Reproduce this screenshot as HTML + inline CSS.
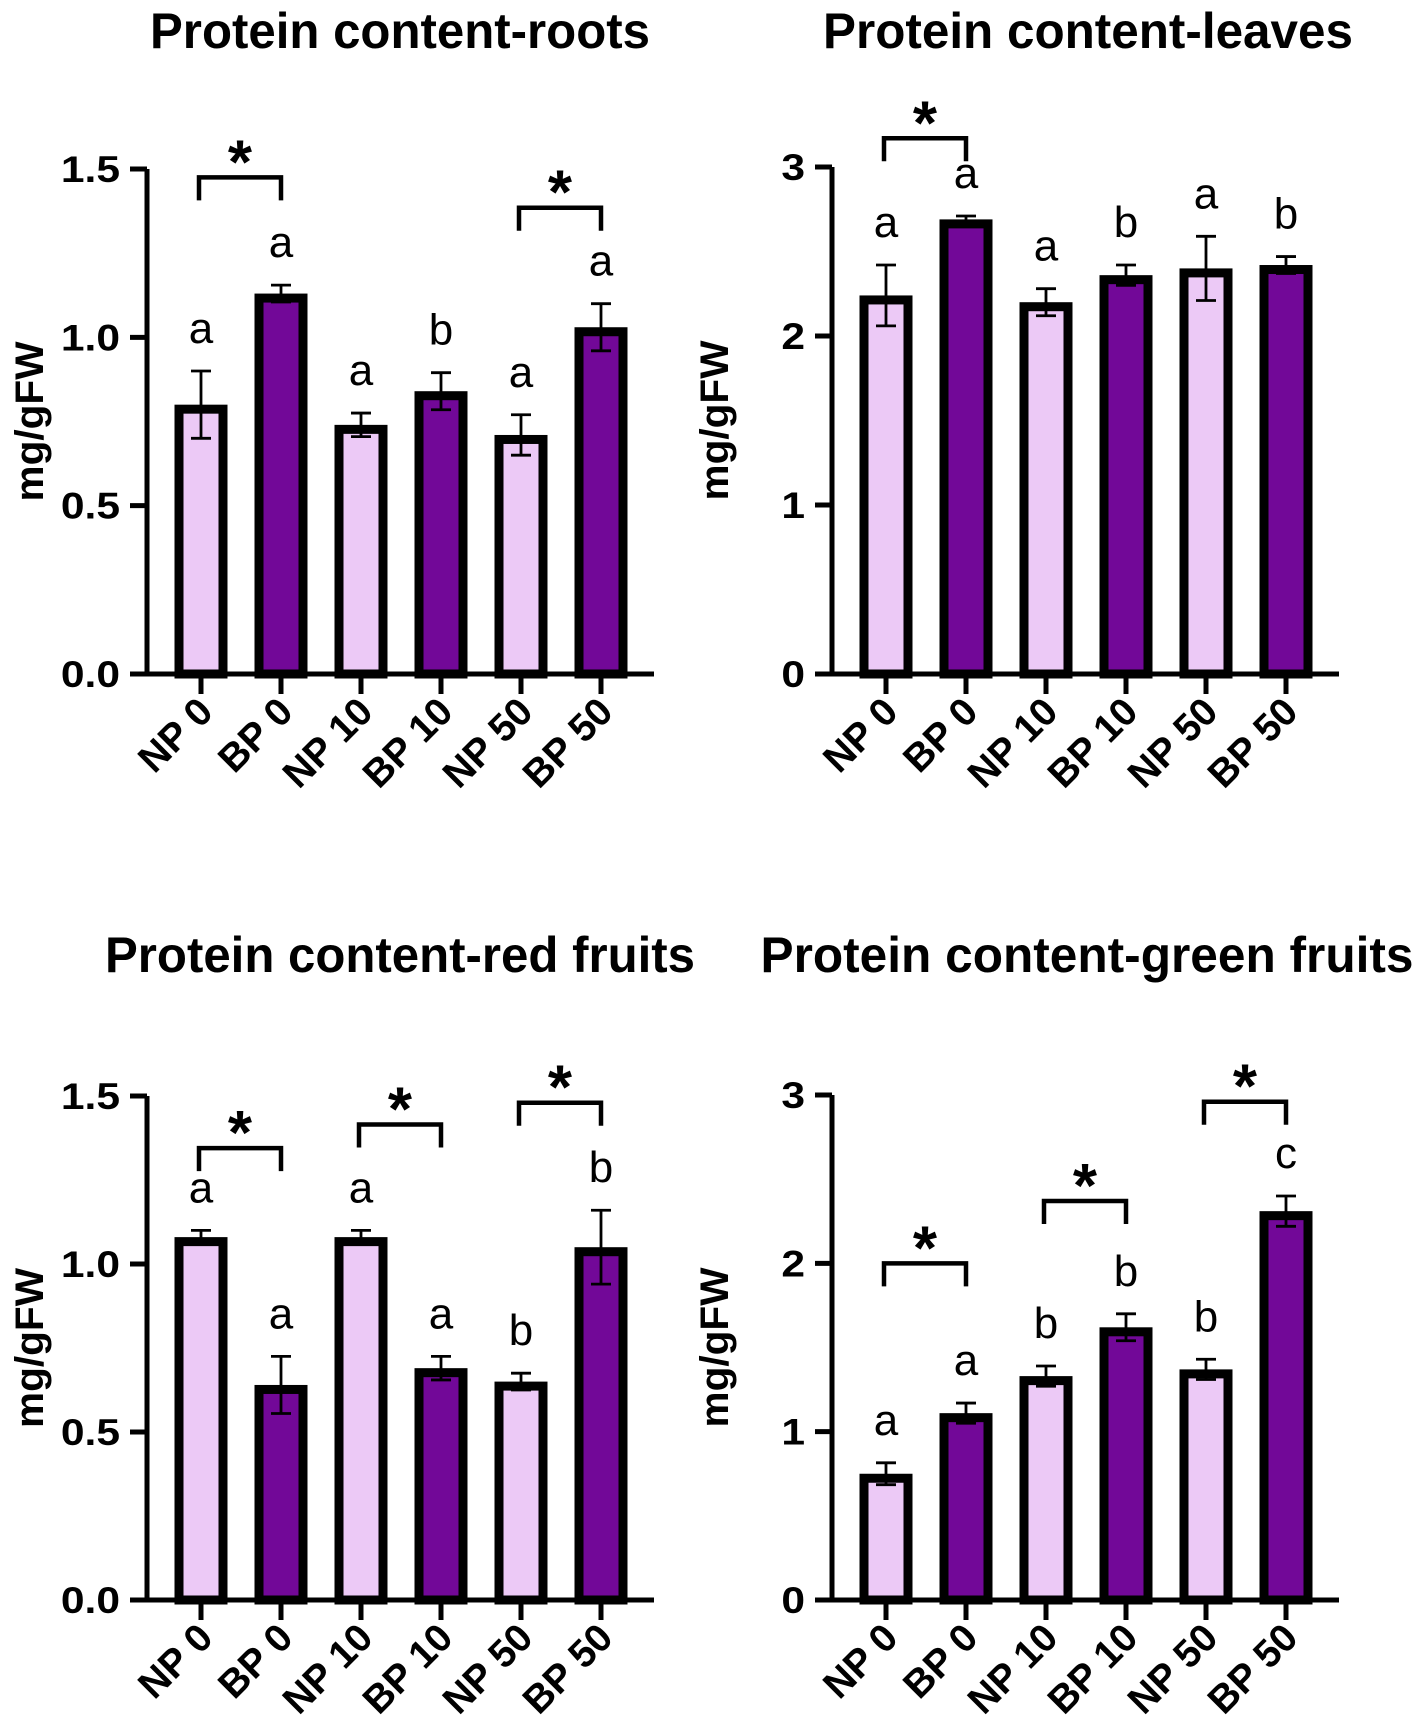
<!DOCTYPE html>
<html><head><meta charset="utf-8"><style>
html,body{margin:0;padding:0;background:#fff;}
svg{display:block;font-family:"Liberation Sans",Arial,sans-serif;}
</style></head><body>
<svg id="fig" width="1418" height="1734" viewBox="0 0 1418 1734" xmlns="http://www.w3.org/2000/svg"></svg>
<script>
const categories = ["NP 0","BP 0","NP 10","BP 10","NP 50","BP 50"];
const rootsValues = [0.80,1.13,0.74,0.84,0.71,1.03];
const rootsErrors = [0.10,0.025,0.035,0.055,0.06,0.07];
const rootsLetters = ["a","a","a","b","a","a"];
const leavesValues = [2.24,2.69,2.20,2.36,2.40,2.42];
const leavesErrors = [0.18,0.02,0.08,0.06,0.19,0.05];
const leavesLetters = ["a","a","a","b","a","b"];
const redValues = [1.08,0.64,1.08,0.69,0.65,1.05];
const redErrors = [0.02,0.085,0.02,0.035,0.025,0.11];
const redLetters = ["a","a","a","a","b","b"];
const greenValues = [0.75,1.11,1.33,1.62,1.37,2.31];
const greenErrors = [0.065,0.06,0.06,0.08,0.06,0.09];
const greenLetters = ["a","a","b","b","b","c"];
const rootsTicks = ["0.0","0.5","1.0","1.5"];
const rootsTickVals = [0,0.5,1.0,1.5];
const leavesTicks = ["0","1","2","3"];
const leavesTickVals = [0,1,2,3];
const rootsBrackets = [[0,1,1.475],[4,5,1.385]];
const leavesBrackets = [[0,1,3.17]];
const redBrackets = [[0,1,1.345],[2,3,1.415],[4,5,1.48]];
const greenBrackets = [[0,1,2.0],[2,3,2.37],[4,5,2.96]];

const svg = document.getElementById('fig');
const NS = 'http://www.w3.org/2000/svg';
function mk(tag, attrs, parent){
  const e = document.createElementNS(NS, tag);
  for (const k in attrs) e.setAttribute(k, attrs[k]);
  (parent||svg).appendChild(e);
  return e;
}
const LIGHT = '#ecc9f6', DARK = '#720898';

function panel(o){
  const g = mk('g', {});
  
  
  const ax = o.axisX, y0 = o.y0, yTop = o.yTop, maxV = o.maxV;
  const yScale = v => y0 - (v / maxV) * (y0 - yTop);
  const xScale = i => o.firstX + i * 80;
  const t = mk('text', {x:o.titleX, y:o.titleY, 'text-anchor':'middle', 'font-size':50, 'font-weight':'bold', textLength:o.titleLen, lengthAdjust:'spacingAndGlyphs'}, g);
  t.textContent = o.title;
  
  
  const yl = mk('text', {x:0, y:0, 'text-anchor':'middle', 'font-size':40, 'font-weight':'bold', transform:`translate(${ax-104},${(y0+yTop)/2}) rotate(-90)`, textLength:160, lengthAdjust:'spacingAndGlyphs'}, g);
  yl.textContent = 'mg/gFW';
  
  
  o.values.forEach((v, i) => {
    const cx = xScale(i), top = yScale(v);
    const r = mk('rect', {x:cx-22, y:top+4.5, width:44, height:(y0-top)-4.5, fill: i%2===0?LIGHT:DARK, stroke:'#000', 'stroke-width':9}, g);
    
    
    const eT = yScale(v + o.errors[i]), eB = yScale(v - o.errors[i]);
    const eb = mk('path', {d:`M${cx},${eT}V${eB}M${cx-10},${eT}H${cx+10}M${cx-10},${eB}H${cx+10}`, stroke:'#000', 'stroke-width':2.8, fill:'none'}, g);
    
    
    const lt = mk('text', {x:cx, y:eT-28, 'text-anchor':'middle', 'font-size':44}, g);
    lt.textContent = o.letters[i];
    
    
    const tk = mk('line', {x1:cx, y1:y0, x2:cx, y2:y0+20, stroke:'#000', 'stroke-width':5}, g);
    
    
    const xl = mk('text', {x:0, y:0, 'text-anchor':'end', 'font-size':39, 'font-weight':'bold', transform:`translate(${cx+14},${y0+40}) rotate(-45)`}, g);
    xl.textContent = categories[i];
    
    
  });
  const ya = mk('line', {x1:ax, y1:yTop, x2:ax, y2:y0+2.5, stroke:'#000', 'stroke-width':5}, g);
  
  
  const xa = mk('line', {x1:ax-17, y1:y0, x2:ax+507, y2:y0, stroke:'#000', 'stroke-width':5}, g);
  
  
  o.tickVals.forEach((tv, k) => {
    const y = yScale(tv);
    const tl = mk('line', {x1:ax-17, y1:y, x2:ax, y2:y, stroke:'#000', 'stroke-width':5}, g);
    
    
    const tx = mk('text', {x:0, y:0, 'text-anchor':'end', 'font-size':37, 'font-weight':'bold', transform:`translate(${ax-27},${y+13}) scale(1.15,1)`}, g);
    tx.textContent = o.ticks[k];
    
    
  });
  o.brackets.forEach(b => {
    const x1 = xScale(b[0]) - 2, x2 = xScale(b[1]), y = yScale(b[2]);
    const p = mk('path', {d:`M${x1},${y+23}V${y}H${x2}V${y+23}`, stroke:'#000', 'stroke-width':4.5, fill:'none'}, g);
    
    
    const s = mk('text', {x:(x1+x2)/2, y:y+6, 'text-anchor':'middle', 'font-size':62, 'font-weight':'bold'}, g);
    s.textContent = '*';
    
    
  });
}

panel({name:'roots-panel', title:'Protein content-roots', titleX:400, titleY:48, titleLen:500, axisX:147, y0:674, yTop:169, maxV:1.5, firstX:201,
  values:rootsValues, errors:rootsErrors, letters:rootsLetters, ticks:rootsTicks, tickVals:rootsTickVals, brackets:rootsBrackets});
panel({name:'leaves-panel', title:'Protein content-leaves', titleX:1088, titleY:48, titleLen:530, axisX:832, y0:674, yTop:167, maxV:3, firstX:886,
  values:leavesValues, errors:leavesErrors, letters:leavesLetters, ticks:leavesTicks, tickVals:leavesTickVals, brackets:leavesBrackets});
panel({name:'red-fruits-panel', title:'Protein content-red fruits', titleX:400, titleY:972, titleLen:590, axisX:147, y0:1600, yTop:1096, maxV:1.5, firstX:201,
  values:redValues, errors:redErrors, letters:redLetters, ticks:rootsTicks, tickVals:rootsTickVals, brackets:redBrackets});
panel({name:'green-fruits-panel', title:'Protein content-green fruits', titleX:1087, titleY:972, titleLen:653, axisX:832, y0:1600, yTop:1095, maxV:3, firstX:886,
  values:greenValues, errors:greenErrors, letters:greenLetters, ticks:leavesTicks, tickVals:leavesTickVals, brackets:greenBrackets});
</script>
</body></html>
